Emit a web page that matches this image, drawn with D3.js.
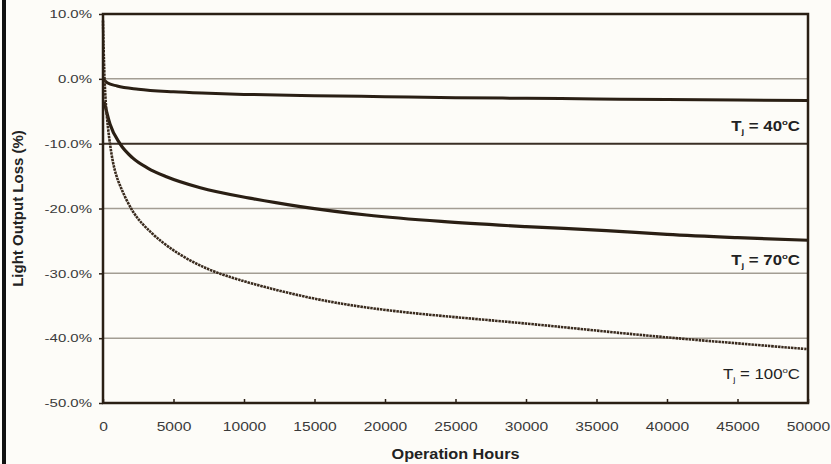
<!DOCTYPE html>
<html>
<head>
<meta charset="utf-8">
<script src="https://cdn.jsdelivr.net/npm/d3@7"></script>
<style>
  body { margin: 0; background: #fdfcf8; }
  svg { display: block; font-family: "Liberation Sans", Arial, sans-serif; }
</style>
</head>
<body>
<div id="chart"></div>
<script>
// hours vs light output loss (%)
const xTicks = [0, 5000, 10000, 15000, 20000, 25000, 30000, 35000, 40000, 45000, 50000];
const yTicks = [10, 0, -10, -20, -30, -40, -50];

const series40 = [
    [0, 0], [300, -0.6], [1000, -1.1], [2500, -1.6], [5000, -2.0], [7000, -2.2],
    [10000, -2.4], [15000, -2.6], [20000, -2.75], [25000, -2.9], [30000, -3.0],
    [35000, -3.1], [40000, -3.2], [45000, -3.25], [50000, -3.35]
];
const series70 = [
    [80, -3.5], [500, -7], [1200, -10], [2100, -12.2], [3200, -13.8], [4500, -15.1],
    [6900, -16.8], [10400, -18.4], [14000, -19.7], [18700, -21], [24000, -22],
    [30000, -22.8], [35700, -23.4], [40000, -24], [45000, -24.5], [50000, -24.9]
];
const series100 = [
    [0, 9], [0, 9], [100, -1], [300, -7], [700, -13.5], [1200, -16.6], [2100, -20.7],
    [3000, -22.9], [4500, -25.9], [6900, -29], [9200, -30.8], [14000, -33.6],
    [18700, -35.4], [24000, -36.6], [30000, -37.7], [35700, -39], [40000, -39.9],
    [45000, -40.8], [50000, -41.7], [50000, -41.7]
];
const labels = [
    { temp: "40", base: 131, bold: true },
    { temp: "70", base: 265, bold: true },
    { temp: "100", base: 379, bold: false }
];

const width = 831, height = 464;
const margin = { top: 14, right: 23, bottom: 61, left: 103 };
const ink = "#2a1f14";

const svg = d3.select("#chart").append("svg")
    .attr("width", width)
    .attr("height", height);

svg.append("rect")
    .attr("width", width).attr("height", height)
    .attr("fill", "#fdfcf8");

// black bar on the left edge of the scan
svg.append("rect")
    .attr("x", 2).attr("y", 0)
    .attr("width", 4).attr("height", height)
    .attr("fill", "#111");

const x = d3.scaleLinear()
    .domain([0, 50000])
    .range([margin.left, width - margin.right]);

const y = d3.scaleLinear()
    .domain([-50, 10])
    .range([height - margin.bottom, margin.top]);

// grid lines
svg.append("g")
    .selectAll("line")
    .data(yTicks.filter(d => d < 10 && d > -50))
    .join("line")
    .attr("x1", x(0)).attr("x2", x(50000))
    .attr("y1", d => y(d)).attr("y2", d => y(d))
    .attr("stroke", d => d === -10 ? "#3a2f25" : "#a39d93")
    .attr("stroke-width", d => d === -10 ? 2 : 1.5);

const line = d3.line()
    .x(d => x(d[0]))
    .y(d => y(d[1]))
    .curve(d3.curveMonotoneX);

// basis curve for the 100C run, the scan shows it very smooth
const smooth = d3.line()
    .x(d => x(d[0]))
    .y(d => y(d[1]))
    .curve(d3.curveBasis);

svg.append("path")
    .datum(series40)
    .attr("d", line)
    .attr("fill", "none")
    .attr("stroke", ink)
    .attr("stroke-width", 3);

svg.append("path")
    .datum(series70)
    .attr("d", line)
    .attr("fill", "none")
    .attr("stroke", ink)
    .attr("stroke-width", 3.2);

svg.append("path")
    .datum(series100)
    .attr("d", smooth)
    .attr("fill", "none")
    .attr("stroke", "#3a2b1e")
    .attr("stroke-width", 2.6)
    .attr("stroke-dasharray", "2.5,0.8");

// frame
svg.append("rect")
    .attr("x", x(0)).attr("y", y(10))
    .attr("width", x(50000) - x(0))
    .attr("height", y(-50) - y(10))
    .attr("fill", "none")
    .attr("stroke", ink)
    .attr("stroke-width", 2.5);

// axes (the scan is stretched sideways, so text is widened a bit)
const xAxis = svg.append("g")
    .attr("transform", `translate(0,${y(-50)})`)
    .call(d3.axisBottom(x).tickValues(xTicks).tickFormat(d3.format("d")).tickSizeInner(-4).tickSizeOuter(0).tickPadding(19));
xAxis.select(".domain").remove();
xAxis.selectAll("line").attr("stroke", ink).attr("stroke-width", 1.5);
xAxis.selectAll("text")
    .attr("fill", "#3a3a3a").attr("font-size", 12)
    .attr("transform", "scale(1.3,1)");

const yAxis = svg.append("g")
    .attr("transform", `translate(${x(0)},0)`)
    .call(d3.axisLeft(y).tickValues(yTicks).tickFormat(d => d.toFixed(1) + "%").tickSize(4).tickPadding(4.5));
yAxis.select(".domain").remove();
yAxis.selectAll("line").attr("stroke", ink).attr("stroke-width", 1.5);
yAxis.selectAll("text")
    .attr("fill", "#3a3a3a").attr("font-size", 11.5)
    .attr("transform", "scale(1.3,1)");

// axis titles
svg.append("text")
    .attr("transform", `translate(${(x(0) + x(50000)) / 2},459) scale(1.12,1)`)
    .attr("text-anchor", "middle")
    .attr("font-weight", "bold")
    .attr("font-size", 14.5)
    .attr("fill", "#222")
    .text("Operation Hours");

svg.append("text")
    .attr("transform", `translate(23,${(y(10) + y(-50)) / 2}) rotate(-90)`)
    .attr("text-anchor", "middle")
    .attr("font-weight", "bold")
    .attr("font-size", 15)
    .attr("fill", "#222")
    .text("Light Output Loss (%)");

// series labels
const lbl = svg.append("g")
    .selectAll("text")
    .data(labels)
    .join("text")
    .attr("transform", d => `translate(${x(50000) - 8},${d.base}) scale(1.2,1)`)
    .attr("text-anchor", "end")
    .attr("font-weight", d => d.bold ? "bold" : "normal")
    .attr("font-size", 14)
    .attr("fill", "#222");
lbl.append("tspan").text("T");
lbl.append("tspan").attr("font-size", 8).attr("dy", 3).text("j");
lbl.append("tspan").attr("dy", -3).text(d => " = " + d.temp);
lbl.append("tspan").attr("font-size", 8).attr("dy", -6).text("o");
lbl.append("tspan").attr("dy", 6).text("C");
</script>
</body>
</html>
